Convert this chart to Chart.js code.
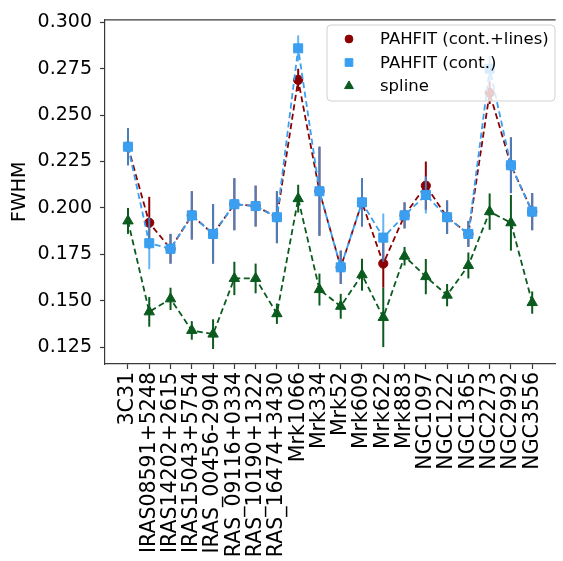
<!DOCTYPE html>
<html>
<head>
<meta charset="utf-8">
<script src="https://cdn.jsdelivr.net/npm/chart.js@4/dist/chart.umd.min.js"></script>
<style>
  html, body { margin: 0; padding: 0; background: #fff; }
  #wrap { width: 563px; height: 561px; }
</style>
</head>
<body>
<div id="wrap"><canvas id="fwhmChart" width="563" height="561"></canvas></div>
<script>
// --- Data ---
const galaxies = ['3C31', 'IRAS08591+5248', 'IRAS14202+2615', 'IRAS15043+5754', 'IRAS_00456-2904',
    'RAS_09116+0334', 'RAS_10190+1322', 'RAS_16474+3430', 'Mrk1066', 'Mrk334', 'Mrk52', 'Mrk609',
    'Mrk622', 'Mrk883', 'NGC1097', 'NGC1222', 'NGC1365', 'NGC2273', 'NGC2992', 'NGC3556'];

const pahfitLines    = [0.233, 0.192, 0.178, 0.196, 0.186, 0.202, 0.201, 0.195, 0.269, 0.209, 0.168, 0.203, 0.170, 0.196, 0.212, 0.195, 0.186, 0.262, 0.223, 0.198];
const pahfitLinesErr = [0.010, 0.014, 0.008, 0.013, 0.016, 0.014, 0.011, 0.014, 0.006, 0.024, 0.009, 0.013, 0.013, 0.007, 0.013, 0.009, 0.007, 0.006, 0.015, 0.010];

const pahfitCont     = [0.233, 0.181, 0.178, 0.196, 0.186, 0.202, 0.201, 0.195, 0.286, 0.209, 0.168, 0.203, 0.184, 0.196, 0.207, 0.195, 0.186, 0.275, 0.223, 0.198];
const pahfitContErr  = [0.010, 0.014, 0.008, 0.013, 0.016, 0.014, 0.011, 0.014, 0.007, 0.024, 0.009, 0.013, 0.013, 0.007, 0.010, 0.009, 0.007, 0.007, 0.015, 0.010];

const spline         = [0.193, 0.144, 0.151, 0.134, 0.132, 0.162, 0.162, 0.143, 0.205, 0.156, 0.147, 0.164, 0.141, 0.174, 0.163, 0.153, 0.169, 0.198, 0.192, 0.149];
const splineErr      = [0.007, 0.008, 0.006, 0.005, 0.008, 0.009, 0.008, 0.0055, 0.0075, 0.0086, 0.0067, 0.0086, 0.016, 0.005, 0.0095, 0.006, 0.007, 0.0098, 0.015, 0.006];

const yTicks = [0.125, 0.150, 0.175, 0.200, 0.225, 0.250, 0.275, 0.300];
const yTitle = 'FWHM';

const FONT = "'DejaVu Sans', sans-serif";
const AXIS_COLOR = '#3a3a3a';

function toPoints(vals) {
    return vals.map((v, i) => ({ x: i, y: v }));
}

// --- Plugins ---
// error bars, drawn just before each dataset so markers sit on top
const errorBarPlugin = {
    id: 'errorBars',
    beforeDatasetDraw(chart, args) {
        const ds = chart.data.datasets[args.index];
        if (!ds.errors) return;
        const ctx = chart.ctx;
        const xs = chart.scales.x, ys = chart.scales.y;
        ctx.save();
        ctx.strokeStyle = ds.errorColor;
        ctx.lineWidth = 2;
        ds.data.forEach((p, i) => {
            const px = xs.getPixelForValue(p.x);
            ctx.beginPath();
            ctx.moveTo(px, ys.getPixelForValue(p.y - ds.errors[i]));
            ctx.lineTo(px, ys.getPixelForValue(p.y + ds.errors[i]));
            ctx.stroke();
        });
        ctx.restore();
    }
};

// top spine + legend box in the upper right corner
const framePlugin = {
    id: 'frameAndLegend',
    afterDraw(chart) {
        const ctx = chart.ctx;
        const area = chart.chartArea;
        ctx.save();
        ctx.strokeStyle = AXIS_COLOR;
        ctx.lineWidth = 1.2;
        ctx.beginPath();
        ctx.moveTo(area.left, area.top + 0.5);
        ctx.lineTo(area.right, area.top + 0.5);
        ctx.stroke();

        // legend
        const bx = 327, by = 25, bw = 228, bh = 76, r = 4;
        ctx.beginPath();
        ctx.moveTo(bx + r, by);
        ctx.arcTo(bx + bw, by, bx + bw, by + bh, r);
        ctx.arcTo(bx + bw, by + bh, bx, by + bh, r);
        ctx.arcTo(bx, by + bh, bx, by, r);
        ctx.arcTo(bx, by, bx + bw, by, r);
        ctx.closePath();
        ctx.fillStyle = 'rgba(255,255,255,0.8)';
        ctx.fill();
        ctx.strokeStyle = 'rgba(204,204,204,0.9)';
        ctx.lineWidth = 1;
        ctx.stroke();

        const legendOrder = [0, 1, 2];
        ctx.font = '16.5px ' + FONT;
        ctx.textBaseline = 'middle';
        ctx.textAlign = 'left';
        legendOrder.forEach((dsIdx, row) => {
            const ds = chart.data.datasets[dsIdx];
            const y = 39 + row * 23.5;
            ctx.fillStyle = ds.pointBackgroundColor;
            ctx.strokeStyle = ds.pointBackgroundColor;
            ctx.lineWidth = 1;
            Chart.helpers.drawPoint(ctx, {
                pointStyle: ds.pointStyle,
                radius: ds.pointRadius * 0.85,
                borderWidth: 1,
                rotation: 0
            }, 349, y);
            ctx.fillStyle = '#000';
            ctx.fillText(ds.label, 380, y + 1);
        });
        ctx.restore();
    }
};

// --- Chart ---
const ctx = document.getElementById('fwhmChart').getContext('2d');
new Chart(ctx, {
    type: 'line',
    data: {
        datasets: [
            {
                label: 'PAHFIT (cont.+lines)',
                data: toPoints(pahfitLines),
                errors: pahfitLinesErr,
                errorColor: '#8b0000',
                borderColor: '#8b0000',
                pointBackgroundColor: '#8b0000',
                pointBorderColor: '#8b0000',
                pointStyle: 'circle',
                pointRadius: 4.6,
                order: 3
            },
            {
                label: 'PAHFIT (cont.)',
                data: toPoints(pahfitCont),
                errors: pahfitContErr,
                errorColor: 'rgba(58,159,240,0.78)',
                borderColor: '#3a9ff0',
                pointBackgroundColor: '#3a9ff0',
                pointBorderColor: '#3a9ff0',
                pointStyle: 'rect',
                pointRadius: 6.4,
                order: 2
            },
            {
                label: 'spline',
                data: toPoints(spline),
                errors: splineErr,
                errorColor: '#0b5a1e',
                borderColor: '#0b5a1e',
                pointBackgroundColor: '#0b5a1e',
                pointBorderColor: '#0b5a1e',
                pointStyle: 'triangle',
                pointRadius: 6,
                order: 1
            }
        ].map(ds => Object.assign(ds, {
            showLine: true,
            borderWidth: 1.8,
            borderDash: [6, 3.5],
            pointBorderWidth: 1,
            pointHoverRadius: ds.pointRadius,
            tension: 0,
            fill: false
        }))
    },
    options: {
        responsive: false,
        animation: false,
        events: [],
        layout: { padding: { top: 16, left: 0, right: 0, bottom: 0 } },
        plugins: {
            legend: { display: false },
            tooltip: { enabled: false }
        },
        scales: {
            x: {
                type: 'linear',
                min: -1.08,
                max: 20.1,
                afterBuildTicks: (scale) => {
                    scale.ticks = galaxies.map((g, i) => ({ value: i }));
                },
                afterFit: (scale) => { scale.height = 197; },
                ticks: {
                    autoSkip: false,
                    minRotation: 90,
                    maxRotation: 90,
                    padding: 3,
                    color: '#000',
                    font: { family: FONT, size: 20.5 },
                    callback: (v) => galaxies[v]
                },
                grid: {
                    drawOnChartArea: false,
                    drawTicks: true,
                    tickLength: 5,
                    tickWidth: 1.2,
                    tickColor: AXIS_COLOR
                },
                border: { display: true, color: AXIS_COLOR, width: 1.2 }
            },
            y: {
                min: 0.1159,
                max: 0.3016,
                afterBuildTicks: (scale) => {
                    scale.ticks = yTicks.map(v => ({ value: v }));
                },
                afterFit: (scale) => { scale.width = 105; },
                ticks: {
                    padding: 8,
                    color: '#000',
                    font: { family: FONT, size: 19 },
                    callback: (v) => v.toFixed(3)
                },
                grid: {
                    drawOnChartArea: false,
                    drawTicks: true,
                    tickLength: 5,
                    tickWidth: 1.2,
                    tickColor: AXIS_COLOR
                },
                border: { display: true, color: AXIS_COLOR, width: 1.2 },
                title: {
                    display: true,
                    text: yTitle,
                    color: '#000',
                    font: { family: FONT, size: 19 },
                    padding: { top: 9, bottom: 0 }
                }
            }
        }
    },
    plugins: [errorBarPlugin, framePlugin]
});
</script>
</body>
</html>
